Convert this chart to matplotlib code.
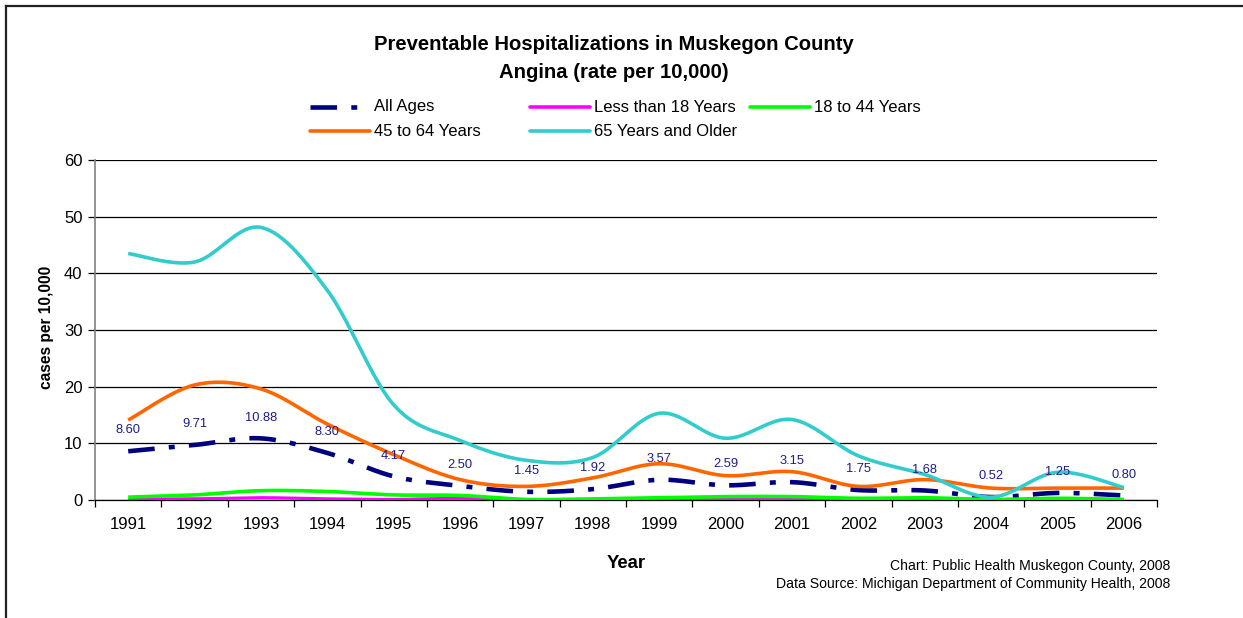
import numpy as np
import matplotlib
matplotlib.use("Agg")
import matplotlib.pyplot as plt
from matplotlib.lines import Line2D

plt.rcParams['font.family'] = ['Liberation Sans', 'DejaVu Sans']

years = ["1991", "1992", "1993", "1994", "1995", "1996", "1997", "1998",
         "1999", "2000", "2001", "2002", "2003", "2004", "2005", "2006"]
all_ages = [8.60, 9.71, 10.88, 8.30, 4.17, 2.50, 1.45, 1.92,
            3.57, 2.59, 3.15, 1.75, 1.68, 0.52, 1.25, 0.80]
under_18 = [0.1, 0.2, 0.4, 0.2, 0.1, 0.3, 0.0, 0.0,
            0.0, 0.1, 0.2, 0.1, 0.1, 0.0, 0.0, 0.0]
age_18_44 = [0.5, 0.9, 1.65, 1.5, 0.9, 0.8, 0.1, 0.2,
             0.4, 0.6, 0.6, 0.3, 0.4, 0.1, 0.3, 0.1]
age_45_64 = [14.1, 20.3, 19.6, 13.4, 8.0, 3.6, 2.4, 3.9,
             6.4, 4.3, 5.0, 2.4, 3.6, 2.1, 2.1, 2.1]
age_65_up = [43.5, 42.0, 48.1, 37.0, 16.8, 10.5, 7.0, 7.5,
             15.3, 10.9, 14.2, 7.8, 4.5, 0.5, 4.9, 2.2]

series_names = ["All Ages", "Less than 18 Years", "18 to 44 Years",
                "45 to 64 Years", "65 Years and Older"]
colors = ["#000080", "#FF00FF", "#00FF00", "#FF6600", "#33CCCC"]

W, H = 1243, 618
fig = plt.figure(figsize=(W / 100, H / 100), dpi=100)


def fx(x):
    return x / W


def fy(y):
    return 1 - y / H


def smooth(xs, ys, n=24):
    """Excel-like smoothed line (Catmull-Rom Bezier) through the points."""
    xs = np.asarray(xs, float)
    ys = np.asarray(ys, float)
    P = np.column_stack([xs, ys])
    out = []
    for i in range(len(P) - 1):
        p0 = P[i - 1] if i > 0 else P[i]
        p1 = P[i]
        p2 = P[i + 1]
        p3 = P[i + 2] if i + 2 < len(P) else P[i + 1]
        c1 = p1 + (p2 - p0) / 6.0
        c2 = p2 - (p3 - p1) / 6.0
        t = np.linspace(0, 1, n, endpoint=(i == len(P) - 2))[:, None]
        b = ((1 - t) ** 3) * p1 + 3 * ((1 - t) ** 2) * t * c1 + 3 * (1 - t) * t ** 2 * c2 + t ** 3 * p2
        out.append(b)
    out = np.vstack(out)
    return out[:, 0], out[:, 1]


# frame around the chart
fig.add_artist(Line2D([fx(5.5), fx(5.5)], [fy(5.5), 0], color="#222222", lw=1.6))
fig.add_artist(Line2D([fx(5.5), 1], [fy(5.5), fy(5.5)], color="#222222", lw=1.6))

ax = fig.add_axes([fx(95), fy(500), fx(1157) - fx(95), fy(160) - fy(500)])
x = np.arange(len(years))

ax.set_xlim(-0.5, len(years) - 0.5)
ax.set_ylim(0, 60)
ax.set_yticks(np.arange(0, 61, 10))
ax.grid(axis="y", color="black", lw=0.9)
ax.set_axisbelow(True)
for s in ["top", "right"]:
    ax.spines[s].set_visible(False)
ax.spines["left"].set_color("#808080")
ax.spines["left"].set_linewidth(1.2)
ax.spines["bottom"].set_color("black")
ax.spines["bottom"].set_linewidth(0.9)

ax.set_xticks(x)
ax.set_xticklabels(years, fontsize=12)
ax.tick_params(axis="x", length=0, pad=12)
ax.set_xticks(np.arange(-0.5, len(years), 1.0), minor=True)
ax.tick_params(axis="x", which="minor", length=5, width=0.9, color="black")
ax.tick_params(axis="y", length=5, width=0.9, color="black", labelsize=12, pad=4)

all_dashes = (5.8, 3.1, 1.3, 3.1)
data = [all_ages, under_18, age_18_44, age_45_64, age_65_up]
widths = [3.3, 2.3, 2.6, 2.6, 2.6]
for i, (vals, c, lw) in enumerate(zip(data, colors, widths)):
    sx, sy = smooth(x, vals)
    if i == 0:
        ax.plot(sx, sy, color=c, lw=lw, dashes=all_dashes, dash_capstyle="butt",
                solid_capstyle="butt", zorder=3)
    else:
        ax.plot(sx, sy, color=c, lw=lw, solid_capstyle="butt", zorder=3 + i)

for xi, v in zip(x, all_ages):
    ax.annotate(f"{v:.2f}", (xi, v), xytext=(0, 15), textcoords="offset points",
                ha="center", va="center", fontsize=9.3, color="#1c1c8c", zorder=10)

# title
fig.text(fx(614), fy(45), "Preventable Hospitalizations in Muskegon County",
         ha="center", va="center", fontsize=14.6, fontweight="bold")
fig.text(fx(614), fy(73), "Angina (rate per 10,000)",
         ha="center", va="center", fontsize=14.6, fontweight="bold")

# legend (manual layout to match original spacing)
leg_items = [
    (0, 310, 107), (3, 310, 131),
    (1, 530, 107), (4, 530, 131),
    (2, 750, 107),
]
for idx, hx, hy in leg_items:
    if idx == 0:
        fig.add_artist(Line2D([fx(hx), fx(hx + 60)], [fy(hy), fy(hy)], color=colors[0],
                              lw=3.3, dashes=all_dashes, dash_capstyle="butt"))
    else:
        fig.add_artist(Line2D([fx(hx), fx(hx + 60)], [fy(hy), fy(hy)], color=colors[idx],
                              lw=2.6, solid_capstyle="round"))
    fig.text(fx(hx + 64), fy(hy), series_names[idx], ha="left", va="center", fontsize=12)

# axis labels
fig.text(fx(47), fy(327), "cases per 10,000", rotation=90, ha="center", va="center",
         fontsize=11.2, fontweight="bold")
fig.text(fx(626), fy(563), "Year", ha="center", va="center", fontsize=13.3, fontweight="bold")

fig.text(fx(1170), fy(566), "Chart: Public Health Muskegon County, 2008",
         ha="right", va="center", fontsize=10.1)
fig.text(fx(1170), fy(584), "Data Source: Michigan Department of Community Health, 2008",
         ha="right", va="center", fontsize=10.1)

fig.savefig("out.png", dpi=100)
